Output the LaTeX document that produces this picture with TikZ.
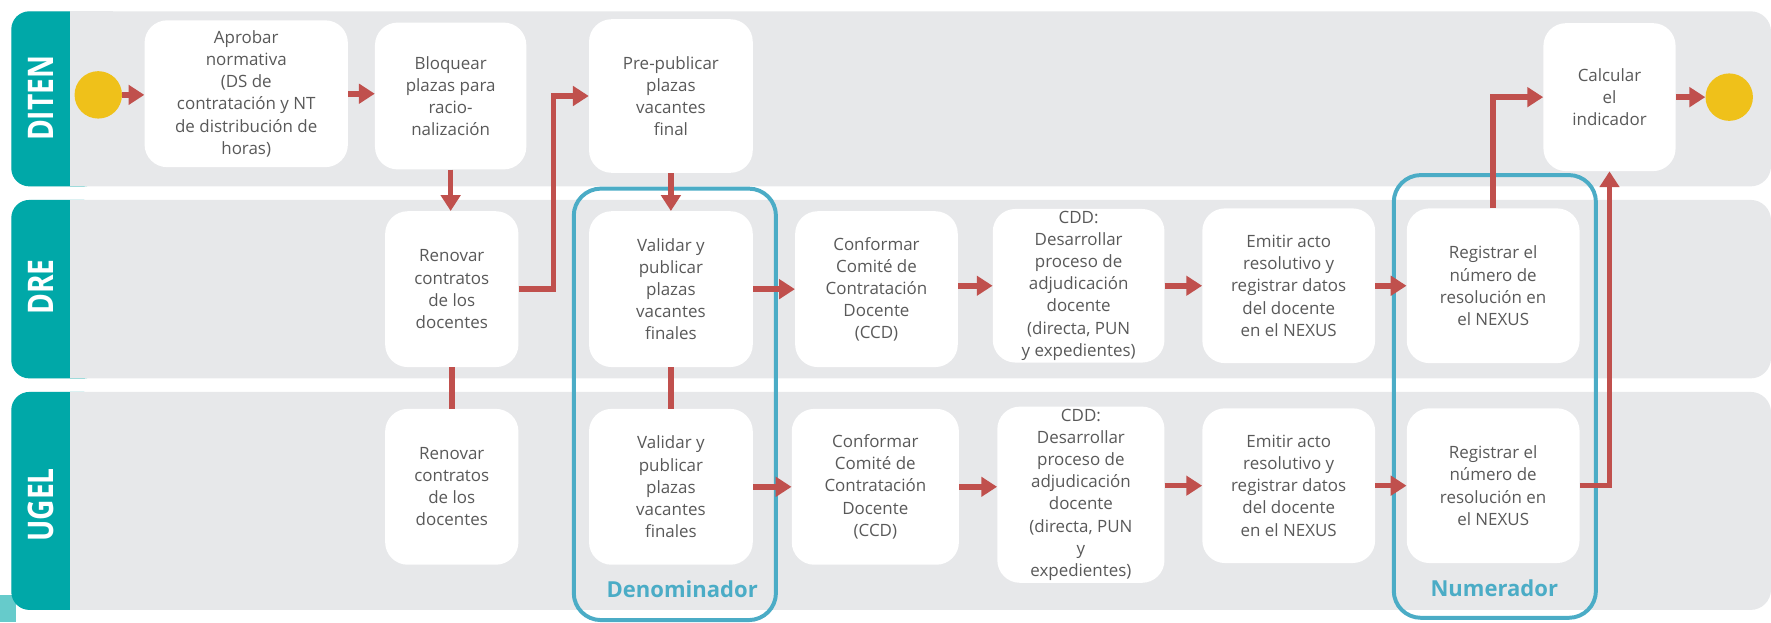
\documentclass[tikz,border=0pt]{standalone}
\usepackage{fontspec}
\setmainfont{Open Sans}
\usetikzlibrary{arrows.meta,positioning}

\definecolor{lanegray}{HTML}{E7E8EA}
\definecolor{laneteal}{HTML}{00A8A8}
\definecolor{flowred}{HTML}{C0504D}
\definecolor{markblue}{HTML}{4BACC6}
\definecolor{dotyellow}{HTML}{EFC11A}
\definecolor{boxtext}{HTML}{595959}

\newcommand{\tallname}[1]{\scalebox{1}[1.25]{#1}}

\tikzset{
  lane/.style={fill=lanegray, rounded corners=18pt},
  tab/.style={fill=laneteal, rounded corners=16pt},
  tablabel/.style={text=white, font=\fontsize{25}{25}\selectfont\bfseries, rotate=90, inner sep=0pt},
  task/.style={fill=white, rounded corners=20pt, align=center, text=boxtext, inner sep=0pt, font=\fontsize{15}{19.6}\selectfont},
  flow/.style={draw=flowred, line width=5pt, -{Triangle[length=14pt,width=17pt]}},
  tie/.style={draw=flowred, line width=5pt},
  measure/.style={draw=markblue, line width=3.5pt, rounded corners=24pt},
  measurelabel/.style={text=markblue, font=\fontsize{19.5}{19.5}\selectfont\bfseries},
  dot/.style={circle, fill=dotyellow, minimum size=42pt, inner sep=0pt}
}

\begin{document}
\begin{tikzpicture}[x=1pt,y=-1pt]
\useasboundingbox (0,0) rectangle (1568,551);

% lanes
\fill[laneteal!60] (0,527) rectangle (14,551);
\fill[lane] (10,10) rectangle (1568,165);
\fill[lane] (10,177) rectangle (1568,335);
\fill[lane] (10,347) rectangle (1568,540);
\fill[tab] (10,10) rectangle (90,165);
\fill[tab] (10,177) rectangle (90,335);
\fill[tab] (10,347) rectangle (90,540);
\fill[lanegray] (62,10) rectangle (100,165);
\fill[lanegray] (62,177) rectangle (100,335);
\fill[lanegray] (62,347) rectangle (100,540);

\node[tablabel] (diten) at (36,87) {\tallname{DITEN}};
\node[tablabel] (dre) at (36,254) {\tallname{DRE}};
\node[tablabel] (ugel) at (36,447) {\tallname{UGEL}};

% indicator frames
\draw[measure] (508,167) rectangle (687,549);
\node[measurelabel] (denom) at (604,522) {Denominador};
\draw[measure] (1234,155) rectangle (1413,547);
\node[measurelabel] (numer) at (1323,521) {Numerador};

% DITEN
\node[dot] (start) at (87,84) {};
\node[task, minimum width=180pt, minimum height=130pt] (aprobar) at (218,83) {Aprobar\\normativa\\(DS de\\contratación y NT\\de distribución de\\horas)};
\node[task, minimum width=134pt, minimum height=130pt] (bloquear) at (399,85) {Bloquear\\plazas para\\racio-\\nalización};
\node[task, minimum width=145pt, minimum height=136pt] (prepub) at (594,85) {Pre-publicar\\plazas\\vacantes\\final};
\node[task, minimum width=117pt, minimum height=131pt] (calcular) at (1425,86) {Calcular\\el\\indicador};
\node[dot] (finish) at (1531,86) {};

% DRE
\node[task, minimum width=118pt, minimum height=138pt] (renovarD) at (400,256) {Renovar\\contratos\\de los\\docentes};
\node[task, minimum width=145pt, minimum height=138pt] (validarD) at (594,256) {Validar y\\publicar\\plazas\\vacantes\\finales};
\node[task, minimum width=144pt, minimum height=138pt] (conformarD) at (776,256) {Conformar\\Comité de\\Contratación\\Docente\\(CCD)};
\node[task, minimum width=152pt, minimum height=136pt] (cddD) at (955,253) {CDD:\\Desarrollar\\proceso de\\adjudicación\\docente\\(directa, PUN\\y expedientes)};
\node[task, minimum width=153pt, minimum height=137pt] (emitirD) at (1141,253) {Emitir acto\\resolutivo y\\registrar datos\\del docente\\en el NEXUS};
\node[task, minimum width=153pt, minimum height=137pt] (registrarD) at (1322,253) {Registrar el\\número de\\resolución en\\el NEXUS};

% UGEL
\node[task, minimum width=118pt, minimum height=138pt] (renovarU) at (400,431) {Renovar\\contratos\\de los\\docentes};
\node[task, minimum width=145pt, minimum height=138pt] (validarU) at (594,431) {Validar y\\publicar\\plazas\\vacantes\\finales};
\node[task, minimum width=148pt, minimum height=138pt] (conformarU) at (775,431) {Conformar\\Comité de\\Contratación\\Docente\\(CCD)};
\node[task, minimum width=148pt, minimum height=156pt] (cddU) at (957,438) {CDD:\\Desarrollar\\proceso de\\adjudicación\\docente\\(directa, PUN\\y\\expedientes)};
\node[task, minimum width=153pt, minimum height=137pt] (emitirU) at (1141,430) {Emitir acto\\resolutivo y\\registrar datos\\del docente\\en el NEXUS};
\node[task, minimum width=153pt, minimum height=137pt] (registrarU) at (1322,430) {Registrar el\\número de\\resolución en\\el NEXUS};

% connectors
\draw[flow] (start) -- (start -| aprobar.west);
\draw[flow] (aprobar.east) -- (aprobar.east -| bloquear.west);
\draw[flow] (bloquear.south) -- (bloquear.south |- renovarD.north);
\draw[tie] (renovarD.south) -- (renovarD.south |- renovarU.north);
\draw[flow] (renovarD.east) -- ++(31,0) |- (prepub.west);
\draw[flow] (prepub.south) -- (prepub.south |- validarD.north);
\draw[tie] (validarD.south) -- (validarD.south |- validarU.north);

\draw[flow] (validarD.east) -- (validarD.east -| conformarD.west);
\draw[flow] (conformarD.east |- cddD.west) -- (cddD.west);
\draw[flow] (cddD.east) -- (cddD.east -| emitirD.west);
\draw[flow] (emitirD.east) -- (emitirD.east -| registrarD.west);

\draw[flow] (validarU.east |- conformarU.west) -- (conformarU.west);
\draw[flow] (conformarU.east) -- (conformarU.east -| cddU.west);
\draw[flow] (emitirU.west -| cddU.east) -- (emitirU.west);
\draw[flow] (emitirU.east) -- (emitirU.east -| registrarU.west);

\draw[flow] (registrarD.north) |- (calcular.west);
\draw[flow] (registrarU.east) -| (calcular.south);
\draw[flow] (calcular.east) -- (calcular.east -| finish.west);
\end{tikzpicture}
\end{document}
